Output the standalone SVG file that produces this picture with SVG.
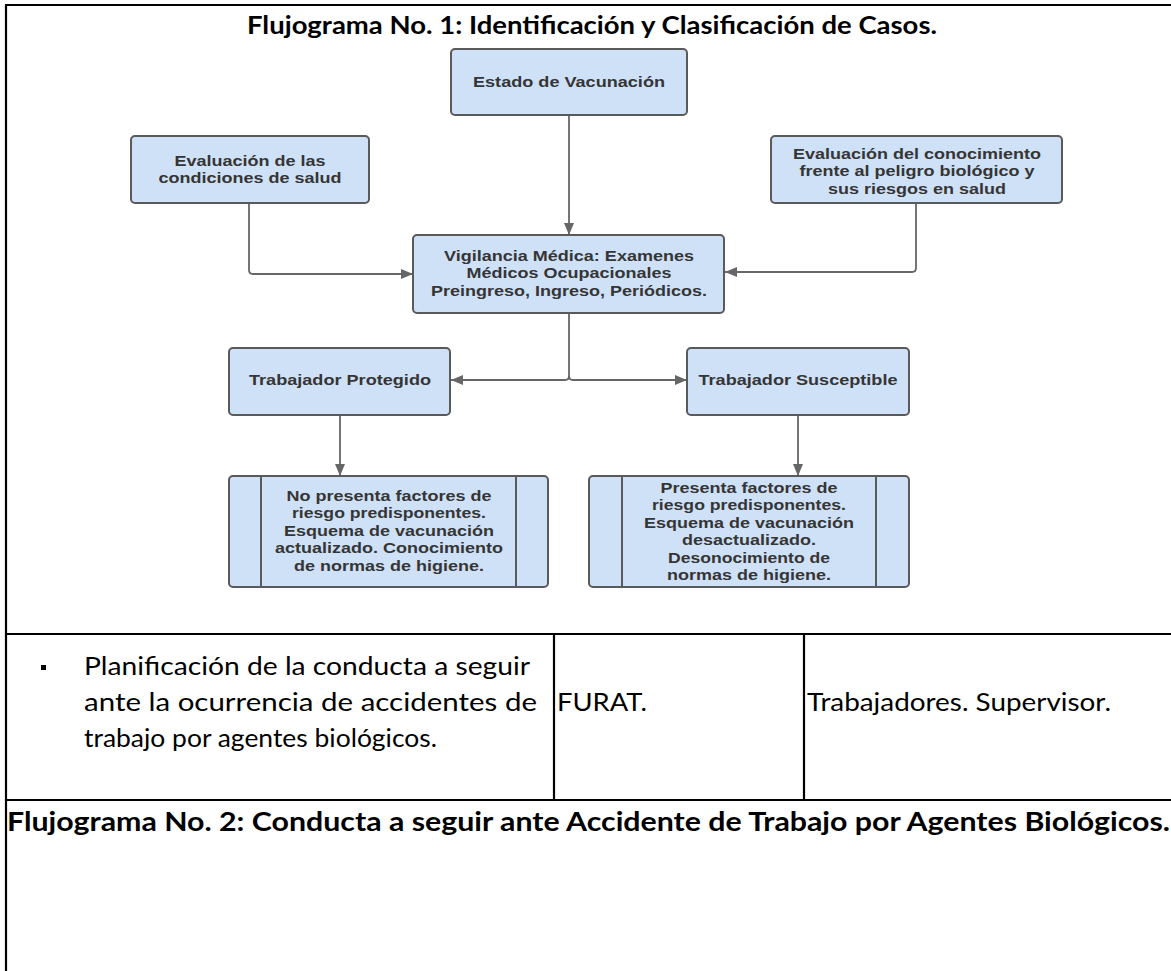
<svg xmlns="http://www.w3.org/2000/svg" width="1171" height="971" viewBox="0 0 1171 971">
<style>
.frame{stroke:#000;stroke-width:2.2;fill:none}
.box{fill:#cfe1f7;stroke:#5a5a5a;stroke-width:2}
.inner{stroke:#5a5a5a;stroke-width:2}
.lbl{font-family:"Liberation Sans",Arial,sans-serif;font-weight:bold;font-size:15px;fill:#353535;text-anchor:middle}
.conn{fill:none;stroke:#666;stroke-width:1.8}
.title{font-family:Lato,"Open Sans",sans-serif;font-weight:bold;fill:#000}
.cell{font-family:Lato,"Open Sans",sans-serif;font-size:25px;fill:#000}
</style>
<defs>
<marker id="arr" viewBox="0 0 12 10" refX="12" refY="5" markerWidth="12" markerHeight="10" markerUnits="userSpaceOnUse" orient="auto">
<path d="M0,0 L12,5 L0,10 z" fill="#666"/>
</marker>
</defs>
<rect width="1171" height="971" fill="#fff"/>
<g id="table">
<line class="frame" x1="5" y1="5" x2="1171" y2="5" stroke-width="3"/>
<line class="frame" x1="6" y1="5" x2="6" y2="971"/>
<line class="frame" x1="5" y1="634" x2="1171" y2="634"/>
<line class="frame" x1="5" y1="800" x2="1171" y2="800"/>
<line class="frame" x1="554" y1="634" x2="554" y2="800" stroke-width="1.8"/>
<line class="frame" x1="804" y1="634" x2="804" y2="800" stroke-width="1.8"/>
<text class="title" x="247" y="34" font-size="24" textLength="690" lengthAdjust="spacingAndGlyphs">Flujograma No. 1: Identificación y Clasificación de Casos.</text>
<rect x="41" y="665" width="5" height="5" fill="#000"/>
<text class="cell" x="84" y="675" textLength="446" lengthAdjust="spacingAndGlyphs">Planificación de la conducta a seguir</text>
<text class="cell" x="84" y="711" textLength="453" lengthAdjust="spacingAndGlyphs">ante la ocurrencia de accidentes de</text>
<text class="cell" x="84" y="747" textLength="353" lengthAdjust="spacingAndGlyphs">trabajo por agentes biológicos.</text>
<text class="cell" x="557" y="711" textLength="90" lengthAdjust="spacingAndGlyphs">FURAT.</text>
<text class="cell" x="807" y="711" textLength="304" lengthAdjust="spacingAndGlyphs">Trabajadores. Supervisor.</text>
<text class="title" x="7" y="831" font-size="26" textLength="1163" lengthAdjust="spacingAndGlyphs">Flujograma No. 2: Conducta a seguir ante Accidente de Trabajo por Agentes Biológicos.</text>
</g>
<g id="connectors">
<path class="conn" d="M569,115 V235" marker-end="url(#arr)"/>
<path class="conn" d="M249,203 V270 Q249,274 253,274 H413" marker-end="url(#arr)"/>
<path class="conn" d="M916,203 V268 Q916,272 912,272 H725" marker-end="url(#arr)"/>
<path class="conn" d="M569,313 V376 Q569,380 565,380 H451" marker-end="url(#arr)"/>
<path class="conn" d="M569,376 Q569,380 573,380 H687" marker-end="url(#arr)"/>
<path class="conn" d="M340,415 V476" marker-end="url(#arr)"/>
<path class="conn" d="M798,415 V476" marker-end="url(#arr)"/>
</g>
<g id="estado">
<rect class="box" x="451" y="49" width="236" height="66" rx="4"/>
<text class="lbl" x="569" y="86.5" textLength="192" lengthAdjust="spacingAndGlyphs">Estado de Vacunación</text>
</g>
<g id="condiciones">
<rect class="box" x="131" y="136" width="238" height="67" rx="4"/>
<text class="lbl" x="250" y="165.5" textLength="151" lengthAdjust="spacingAndGlyphs">Evaluación de las</text>
<text class="lbl" x="250" y="183" textLength="183" lengthAdjust="spacingAndGlyphs">condiciones de salud</text>
</g>
<g id="conocimiento">
<rect class="box" x="771" y="136" width="291" height="67" rx="4"/>
<text class="lbl" x="917" y="158.5" textLength="248" lengthAdjust="spacingAndGlyphs">Evaluación del conocimiento</text>
<text class="lbl" x="917" y="176" textLength="235" lengthAdjust="spacingAndGlyphs">frente al peligro biológico y</text>
<text class="lbl" x="917" y="193.5" textLength="178" lengthAdjust="spacingAndGlyphs">sus riesgos en salud</text>
</g>
<g id="vigilancia">
<rect class="box" x="413" y="235" width="311" height="78" rx="4"/>
<text class="lbl" x="569" y="260.5" textLength="250" lengthAdjust="spacingAndGlyphs">Vigilancia Médica: Examenes</text>
<text class="lbl" x="569" y="278" textLength="205" lengthAdjust="spacingAndGlyphs">Médicos Ocupacionales</text>
<text class="lbl" x="569" y="295.5" textLength="276" lengthAdjust="spacingAndGlyphs">Preingreso, Ingreso, Periódicos.</text>
</g>
<g id="protegido">
<rect class="box" x="229" y="348" width="221" height="67" rx="4"/>
<text class="lbl" x="340" y="384.5" textLength="182" lengthAdjust="spacingAndGlyphs">Trabajador Protegido</text>
</g>
<g id="susceptible">
<rect class="box" x="687" y="348" width="222" height="67" rx="4"/>
<text class="lbl" x="798" y="384.5" textLength="199" lengthAdjust="spacingAndGlyphs">Trabajador Susceptible</text>
</g>
<g id="no-riesgo">
<rect class="box" x="229" y="476" width="319" height="111" rx="4"/>
<line class="inner" x1="261" y1="476" x2="261" y2="587"/>
<line class="inner" x1="516" y1="476" x2="516" y2="587"/>
<text class="lbl" x="389" y="500.5" textLength="205" lengthAdjust="spacingAndGlyphs">No presenta factores de</text>
<text class="lbl" x="389" y="518" textLength="194" lengthAdjust="spacingAndGlyphs">riesgo predisponentes.</text>
<text class="lbl" x="389" y="535.5" textLength="210" lengthAdjust="spacingAndGlyphs">Esquema de vacunación</text>
<text class="lbl" x="389" y="553" textLength="228" lengthAdjust="spacingAndGlyphs">actualizado. Conocimiento</text>
<text class="lbl" x="389" y="570.5" textLength="190" lengthAdjust="spacingAndGlyphs">de normas de higiene.</text>
</g>
<g id="riesgo">
<rect class="box" x="589" y="476" width="320" height="111" rx="4"/>
<line class="inner" x1="622" y1="476" x2="622" y2="587"/>
<line class="inner" x1="876" y1="476" x2="876" y2="587"/>
<text class="lbl" x="749" y="492.5" textLength="177" lengthAdjust="spacingAndGlyphs">Presenta factores de</text>
<text class="lbl" x="749" y="510" textLength="194" lengthAdjust="spacingAndGlyphs">riesgo predisponentes.</text>
<text class="lbl" x="749" y="527.5" textLength="210" lengthAdjust="spacingAndGlyphs">Esquema de vacunación</text>
<text class="lbl" x="749" y="545" textLength="134" lengthAdjust="spacingAndGlyphs">desactualizado.</text>
<text class="lbl" x="749" y="562.5" textLength="162" lengthAdjust="spacingAndGlyphs">Desonocimiento de</text>
<text class="lbl" x="749" y="580" textLength="164" lengthAdjust="spacingAndGlyphs">normas de higiene.</text>
</g>
</svg>
